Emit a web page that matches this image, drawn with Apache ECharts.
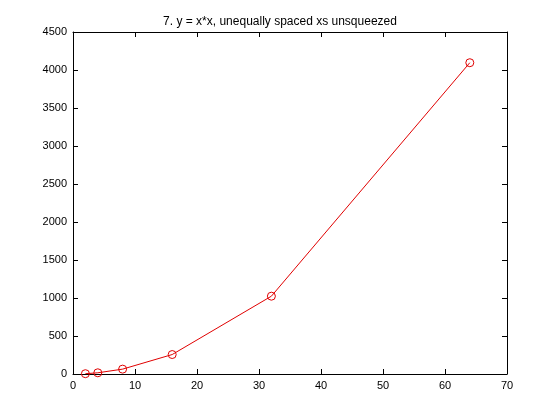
<!DOCTYPE html>
<html><head><meta charset="utf-8">
<script src="https://cdn.jsdelivr.net/npm/echarts@6/dist/echarts.min.js"></script>
<style>html,body{margin:0;padding:0;background:#fff}#c{width:560px;height:420px}</style>
</head><body><div id="c"></div>
<script>
const xs = [2, 4, 8, 16, 32, 64];
const ys = [4, 16, 64, 256, 1024, 4096];
const titleText = '7. y = x*x, unequally spaced xs unsqueezed';
const chart = echarts.init(document.getElementById('c'), null, {renderer:'canvas'});
const axLine = {show:true, onZero:false, lineStyle:{color:'#000', width:1}};
const tick = {show:true, inside:true, length:5, lineStyle:{color:'#000'}};
const lbl = {color:'#000', fontSize:11, fontFamily:'Liberation Sans', margin:6, formatter:v=>String(v)};
chart.setOption({
  animation:false,
  backgroundColor:'#fff',
  title:{text:titleText, left:'center', top:11, textStyle:{fontSize:12, fontWeight:'normal', color:'#000', fontFamily:'Liberation Sans'}},
  grid:{left:73, right:53, top:32, bottom:46},
  xAxis:[
    {type:'value', min:0, max:70, interval:10, position:'bottom', axisLine:axLine, axisTick:tick, axisLabel:lbl, splitLine:{show:false}},
    {type:'value', min:0, max:70, interval:10, position:'top', axisLine:axLine, axisTick:tick, axisLabel:{show:false}, splitLine:{show:false}}
  ],
  yAxis:[
    {type:'value', min:0, max:4500, interval:500, position:'left', axisLine:axLine, axisTick:tick, axisLabel:lbl, splitLine:{show:false}},
    {type:'value', min:0, max:4500, interval:500, position:'right', axisLine:axLine, axisTick:tick, axisLabel:{show:false}, splitLine:{show:false}}
  ],
  series:[{
    type:'line', xAxisIndex:0, yAxisIndex:0,
    data: xs.map((x,i)=>[x, ys[i]]),
    lineStyle:{color:'#e00000', width:1},
    itemStyle:{color:'rgba(255,255,255,0)', borderColor:'#e00000', borderWidth:1},
    symbol:'circle', symbolSize:8, showSymbol:true
  }]
});
</script></body></html>
